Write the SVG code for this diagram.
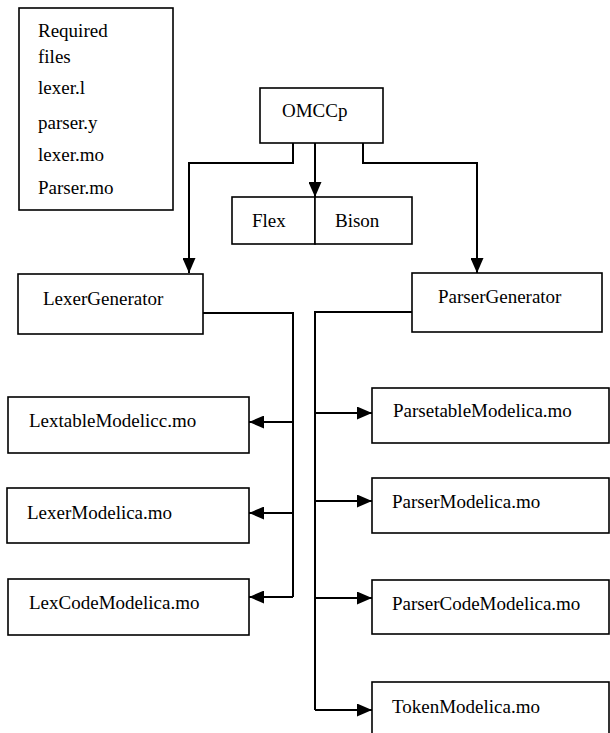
<svg xmlns="http://www.w3.org/2000/svg" width="610" height="733" viewBox="0 0 610 733">
<style>
.box{fill:#fff;stroke:#000;stroke-width:1.6}
.t{font-family:'Liberation Serif','Times New Roman',Times,'DejaVu Serif',serif;font-size:19px;fill:#000}
.c{fill:none;stroke:#000;stroke-width:2}
.a{marker-end:url(#ah)}
</style>
<defs>
<marker id="ah" markerUnits="userSpaceOnUse" markerWidth="15" markerHeight="13" refX="15" refY="6.5" orient="auto" viewBox="0 0 15 13">
<path d="M0,0 L15,6.5 L0,13 z" fill="#000"/>
</marker>
</defs>
<g font-family="Liberation Serif, Times New Roman, serif">
<g id="required">
<rect class="box" x="19" y="8" width="154" height="202"/>
<text class="t" x="38" y="37">Required</text>
<text class="t" x="38" y="63">files</text>
<text class="t" x="38" y="94">lexer.l</text>
<text class="t" x="38" y="129">parser.y</text>
<text class="t" x="38" y="161">lexer.mo</text>
<text class="t" x="38" y="194">Parser.mo</text>
</g>
<g id="omccp">
<rect class="box" x="260" y="88" width="123" height="55"/>
<text class="t" x="282" y="117">OMCCp</text>
</g>
<g id="flex">
<rect class="box" x="232" y="197" width="83" height="47"/>
<text class="t" x="252" y="227">Flex</text>
</g>
<g id="bison">
<rect class="box" x="315" y="197" width="97" height="47"/>
<text class="t" x="335" y="227">Bison</text>
</g>
<g id="lexergen">
<rect class="box" x="18" y="274" width="185" height="60"/>
<text class="t" x="43" y="305">LexerGenerator</text>
</g>
<g id="parsergen">
<rect class="box" x="412" y="273" width="190" height="59"/>
<text class="t" x="438" y="303">ParserGenerator</text>
</g>
<g id="lextable">
<rect class="box" x="8" y="397" width="241" height="56"/>
<text class="t" x="29" y="427">LextableModelicc.mo</text>
</g>
<g id="lexermod">
<rect class="box" x="7" y="488" width="242" height="55"/>
<text class="t" x="27" y="519">LexerModelica.mo</text>
</g>
<g id="lexcode">
<rect class="box" x="8" y="579" width="241" height="56"/>
<text class="t" x="29" y="609">LexCodeModelica.mo</text>
</g>
<g id="parsetable">
<rect class="box" x="372" y="388" width="237" height="55"/>
<text class="t" x="393" y="417">ParsetableModelica.mo</text>
</g>
<g id="parsermod">
<rect class="box" x="372" y="478" width="237" height="55"/>
<text class="t" x="392" y="508">ParserModelica.mo</text>
</g>
<g id="parsercode">
<rect class="box" x="372" y="580" width="237" height="54"/>
<text class="t" x="392" y="610">ParserCodeModelica.mo</text>
</g>
<g id="token">
<rect class="box" x="372" y="682" width="237" height="60"/>
<text class="t" x="392" y="713">TokenModelica.mo</text>
</g>
</g>
<g id="connectors">
<path class="c a" d="M293,143 V163 H189 V273"/>
<path class="c a" d="M315,143 V197"/>
<path class="c a" d="M363,143 V163 H477 V273"/>
<path class="c" d="M203,313 H293 V597"/>
<path class="c a" d="M293,422 H249"/>
<path class="c a" d="M293,513 H249"/>
<path class="c a" d="M293,597 H249"/>
<path class="c" d="M412,312 H315 V710"/>
<path class="c a" d="M315,413 H372"/>
<path class="c a" d="M315,501 H372"/>
<path class="c a" d="M315,598 H372"/>
<path class="c a" d="M315,710 H372"/>
</g>
</svg>
